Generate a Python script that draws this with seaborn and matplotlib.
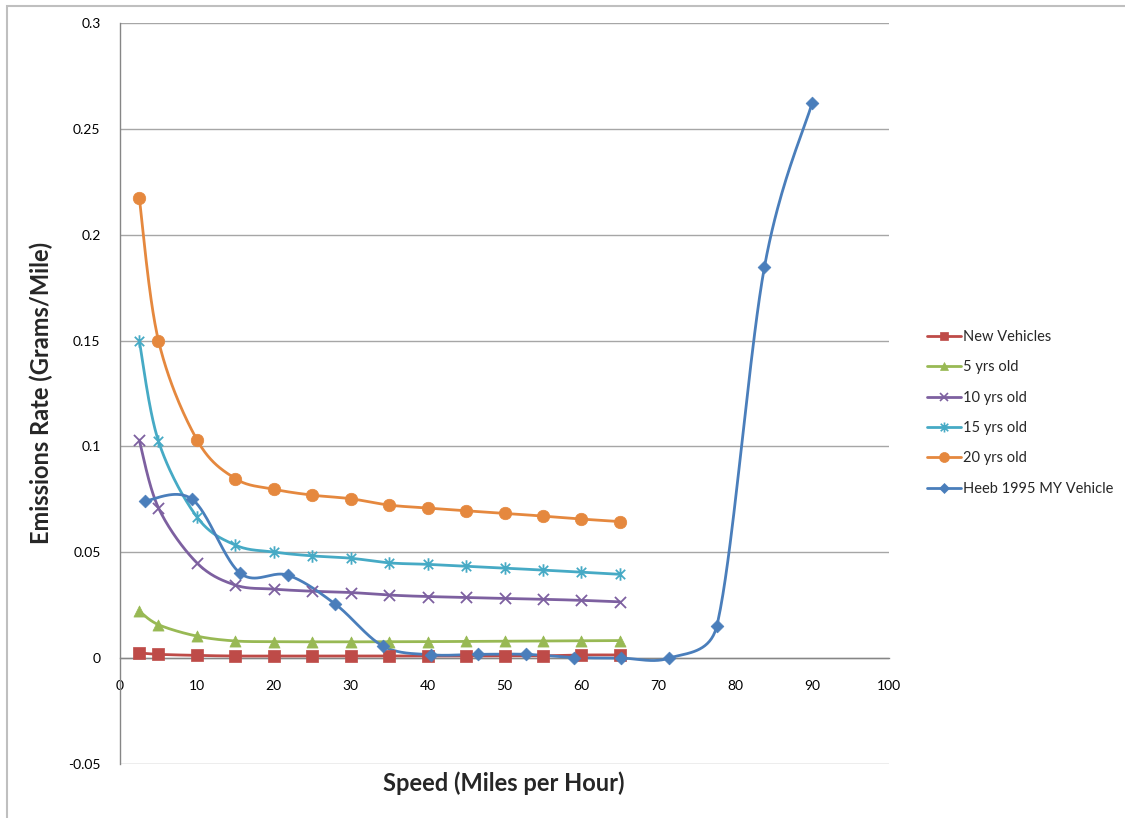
import numpy as np
import pandas as pd
import seaborn as sns
import matplotlib.pyplot as plt
from matplotlib.lines import Line2D
from matplotlib.path import Path
from matplotlib.patches import Rectangle
from matplotlib.ticker import FuncFormatter, MultipleLocator

# speeds for the age-group curves
speed = [2.5, 5, 10, 15, 20, 25, 30, 35, 40, 45, 50, 55, 60, 65]

new_veh = [0.0025, 0.0018, 0.0013, 0.0010, 0.0010, 0.0010, 0.0010, 0.0010,
           0.0010, 0.0010, 0.0011, 0.0011, 0.0015, 0.0015]
yrs5 = [0.0222, 0.0158, 0.0104, 0.0081, 0.0078, 0.0077, 0.0077, 0.0078,
        0.0078, 0.0079, 0.0080, 0.0081, 0.0082, 0.0083]
yrs10 = [0.103, 0.0710, 0.0450, 0.0345, 0.0326, 0.0316, 0.0310, 0.0298,
         0.0291, 0.0287, 0.0282, 0.0278, 0.0273, 0.0266]
yrs15 = [0.150, 0.1025, 0.0667, 0.0534, 0.0501, 0.0483, 0.0472, 0.0450,
         0.0443, 0.0434, 0.0425, 0.0416, 0.0406, 0.0396]
yrs20 = [0.2175, 0.150, 0.1032, 0.0848, 0.0798, 0.0770, 0.0753, 0.0723,
         0.0709, 0.0696, 0.0684, 0.0671, 0.0657, 0.0645]

# Heeb 1995 MY vehicle
heeb_speed = [3.2, 9.4, 15.6, 21.8, 28.0, 34.2, 40.4, 46.6, 52.8, 59.0,
              65.2, 71.4, 77.6, 83.8, 90.0]
heeb = [0.0742, 0.0750, 0.0402, 0.0392, 0.0255, 0.0057, 0.0016, 0.0018,
        0.0018, 0.0003, 0.0000, 0.0000, 0.0151, 0.1847, 0.2622]

labels = ["New Vehicles", "5 yrs old", "10 yrs old", "15 yrs old",
          "20 yrs old", "Heeb 1995 MY Vehicle"]
colors = ["#BE4B48", "#98B954", "#7D60A0", "#46AAC5", "#E5883E", "#4A7EBB"]

# asterisk marker like Excel's "*"
star = Path([(0, -1), (0, 1), (-0.75, -0.75), (0.75, 0.75), (-0.75, 0.75), (0.75, -0.75)],
            [Path.MOVETO, Path.LINETO] * 3)
markers = ["s", "^", "x", star, "o", "D"]
msizes = [8, 8, 8, 9, 9, 6.5]

# rough pixel scale of the plot area, used only to keep the smoothing tame
PX = np.array([769 / 100, 741 / 0.35])


def excel_smooth(xs, ys, n=40):
    """Bezier smoothing similar to Excel's 'smoothed line' scatter series."""
    p = np.column_stack([xs, ys]).astype(float)
    pts = [p[0]]
    t = np.linspace(0, 1, n)[1:, None]
    for i in range(len(p) - 1):
        p0 = p[max(i - 1, 0)]
        p1, p2 = p[i], p[i + 1]
        p3 = p[min(i + 2, len(p) - 1)]
        seg_len = np.linalg.norm((p2 - p1) * PX)
        v1 = (p2 - p0) / 6
        v2 = (p3 - p1) / 6
        # clamp control handles to half the segment length
        for v in (v1, v2):
            L = np.linalg.norm(v * PX)
            if L > seg_len / 2:
                v *= (seg_len / 2) / L
        b1 = p1 + v1
        b2 = p2 - v2
        seg = ((1 - t) ** 3) * p1 + 3 * ((1 - t) ** 2) * t * b1 + 3 * (1 - t) * t ** 2 * b2 + t ** 3 * p2
        pts.extend(seg)
    pts = np.array(pts)
    return pts[:, 0], pts[:, 1]


series = [(speed, new_veh), (speed, yrs5), (speed, yrs10), (speed, yrs15),
          (speed, yrs20), (heeb_speed, heeb)]

sns.set_theme(style="white")
plt.rcParams["font.family"] = ["Lato", "DejaVu Sans"]

fig = plt.figure(figsize=(11.25, 8.18), dpi=100)
ax = fig.add_axes([120 / 1125, 1 - 764 / 818, 769 / 1125, 741 / 818])

for (xs, ys), lab, c, m, ms in zip(series, labels, colors, markers, msizes):
    sx, sy = excel_smooth(xs, ys)
    smooth = pd.DataFrame({"x": sx, "y": sy})
    sns.lineplot(data=smooth, x="x", y="y", sort=False, estimator=None,
                 color=c, linewidth=2.0, ax=ax, zorder=3)
    pts = pd.DataFrame({"x": xs, "y": ys})
    sns.scatterplot(data=pts, x="x", y="y", marker=m, s=ms ** 2, color=c,
                    edgecolor=c, linewidth=1.3 if (m == "x" or m is star) else 0.5,
                    ax=ax, zorder=4)

ax.set_xlim(0, 100)
ax.set_ylim(-0.05, 0.3)
ax.xaxis.set_major_locator(MultipleLocator(10))
ax.yaxis.set_major_locator(MultipleLocator(0.05))
ax.yaxis.set_major_formatter(FuncFormatter(lambda v, _: f"{v:g}" if abs(v) > 1e-9 else "0"))
ax.grid(axis="y", color="#A6A6A6", linewidth=1.0)
ax.grid(axis="x", visible=False)

for s in ["top", "right"]:
    ax.spines[s].set_visible(False)
ax.spines["bottom"].set_position(("data", 0))
ax.spines["left"].set_color("#868686")
ax.spines["bottom"].set_color("#868686")
ax.spines["left"].set_linewidth(1.0)
ax.spines["bottom"].set_linewidth(1.0)
ax.tick_params(axis="both", direction="out", length=6, width=1.0, color="#868686",
               labelsize=10, labelcolor="black", pad=4)
ax.tick_params(axis="x", pad=10)
ax.tick_params(axis="y", pad=8)

ax.set_xlabel("")
ax.set_ylabel("")
fig.text(504 / 1125, 1 - 783 / 818, "Speed (Miles per Hour)", ha="center", va="center",
         fontsize=17, fontweight="bold")
fig.text(41 / 1125, 1 - 393 / 818, "Emissions Rate (Grams/Mile)", ha="center", va="center",
         rotation=90, fontsize=17, fontweight="bold")

handles = [Line2D([0], [0], color=c, linewidth=2.0, marker=m, markersize=ms * 0.8,
                  markeredgecolor=c, markerfacecolor=c,
                  markeredgewidth=1.2 if (m == "x" or m is star) else 0.5)
           for c, m, ms in zip(colors, markers, msizes)]
fig.legend(handles, labels, loc="upper left", bbox_to_anchor=(927 / 1125, 1 - 330 / 818),
           frameon=False, fontsize=10.5, handlelength=2.3, handletextpad=0.2,
           labelspacing=1.12, borderpad=0, borderaxespad=0)

# outer chart border
fig.patches.append(Rectangle((7 / 1125, -0.1), 1.2, 1.1 - 6 / 818,
                             transform=fig.transFigure, fill=False,
                             edgecolor="#BFBFBF", linewidth=1.5))

fig.savefig("out.png", dpi=100)
